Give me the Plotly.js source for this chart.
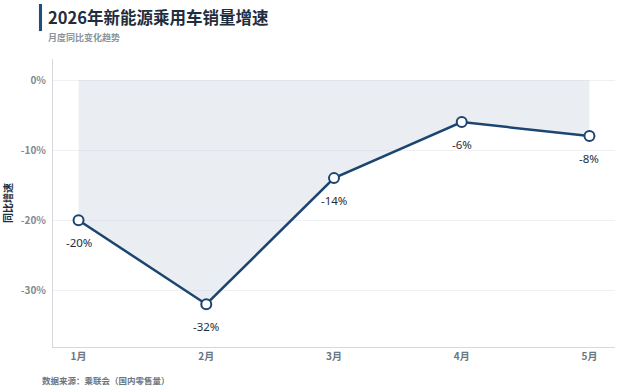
<!DOCTYPE html>
<html><head><meta charset="utf-8">
<script src="https://cdn.plot.ly/plotly-3.0.1.min.js"></script>
<style>html,body{margin:0;padding:0;background:#fff;}#chart{width:620px;height:390px;}</style>
</head><body><div id="chart"></div>
<script>
const months = ["1月","2月","3月","4月","5月"];
const growth = [-20, -32, -14, -6, -8];
const zeroLine = [0, 0, 0, 0, 0];
const yTickVals = [0, -10, -20, -30];
const yTickText = ["0%", "-10%", "-20%", "-30%"];
const labels = growth.map(v => v + "%");

const font = "'Noto Sans CJK SC', 'Noto Sans', sans-serif";
const labelFont = "'Noto Sans', 'Noto Sans CJK SC', sans-serif";
const traces = [
  {x: months, y: zeroLine, type: "scatter", mode: "lines", line: {width: 0, color: "rgba(0,0,0,0)"}, hoverinfo: "skip", showlegend: false},
  {x: months, y: growth, type: "scatter", mode: "lines+markers",
   fill: "tonexty", fillcolor: "rgba(205,215,227,0.42)",
   line: {color: "#1b4570", width: 2.5},
   marker: {size: 10, color: "#ffffff", line: {color: "#1b4570", width: 2}},
   showlegend: false}
];
const annotations = [
  {text: "2026年新能源乘用车销量增速", xref: "paper", yref: "paper", x: -0.0125, y: 1.146, xanchor: "left", yanchor: "middle",
   showarrow: false, font: {family: font, size: 16.5, color: "#1f2d3d", weight: "bold"}},
  {text: "月度同比变化趋势", xref: "paper", yref: "paper", x: -0.0125, y: 1.076, xanchor: "left", yanchor: "middle",
   showarrow: false, font: {family: font, size: 9, color: "#8a949c", weight: "bold"}},
  {text: "数据来源：乘联会（国内零售量）", xref: "paper", yref: "paper", x: -0.024, y: -0.115, xanchor: "left", yanchor: "middle",
   showarrow: false, font: {family: font, size: 8.5, color: "#6b7680", weight: "bold"}}
];
months.forEach((m, i) => annotations.push({
  x: m, y: growth[i], xref: "x", yref: "y", text: labels[i], showarrow: false,
  yshift: -22, font: {family: labelFont, size: 11.5, color: "#1f2d3d"}
}));
const layout = {
  width: 620, height: 390,
  margin: {l: 53, r: 5, t: 59, b: 43},
  paper_bgcolor: "#ffffff", plot_bgcolor: "#ffffff",
  font: {family: font},
  xaxis: {type: "category", range: [-0.2, 4.2], showgrid: false, zeroline: false,
    showline: true, linecolor: "#d5d8dc", linewidth: 1,
    tickfont: {family: font, size: 10, color: "#6b7680", weight: "bold"}, ticks: "", ticklen: 0},
  yaxis: {range: [-38.1, 3], tickvals: yTickVals, ticktext: yTickText,
    showgrid: true, gridcolor: "#eef0f2", gridwidth: 1, zeroline: false,
    showline: true, linecolor: "#d5d8dc", linewidth: 1, ticks: "", ticklen: 0,
    ticklabelstandoff: 4,
    tickfont: {family: font, size: 10, color: "#7f8a93", weight: "bold"},
    title: {text: "同比增速", standoff: 18, font: {family: font, size: 10, color: "#1f2d3d", weight: "bold"}}},
  shapes: [
    {type: "rect", xref: "paper", yref: "paper", x0: -0.025, x1: -0.0195, y0: 1.097, y1: 1.191,
     fillcolor: "#1f4e7d", line: {width: 0}}
  ],
  annotations: annotations
};
Plotly.newPlot("chart", traces, layout, {displayModeBar: false, staticPlot: true});
</script></body></html>
